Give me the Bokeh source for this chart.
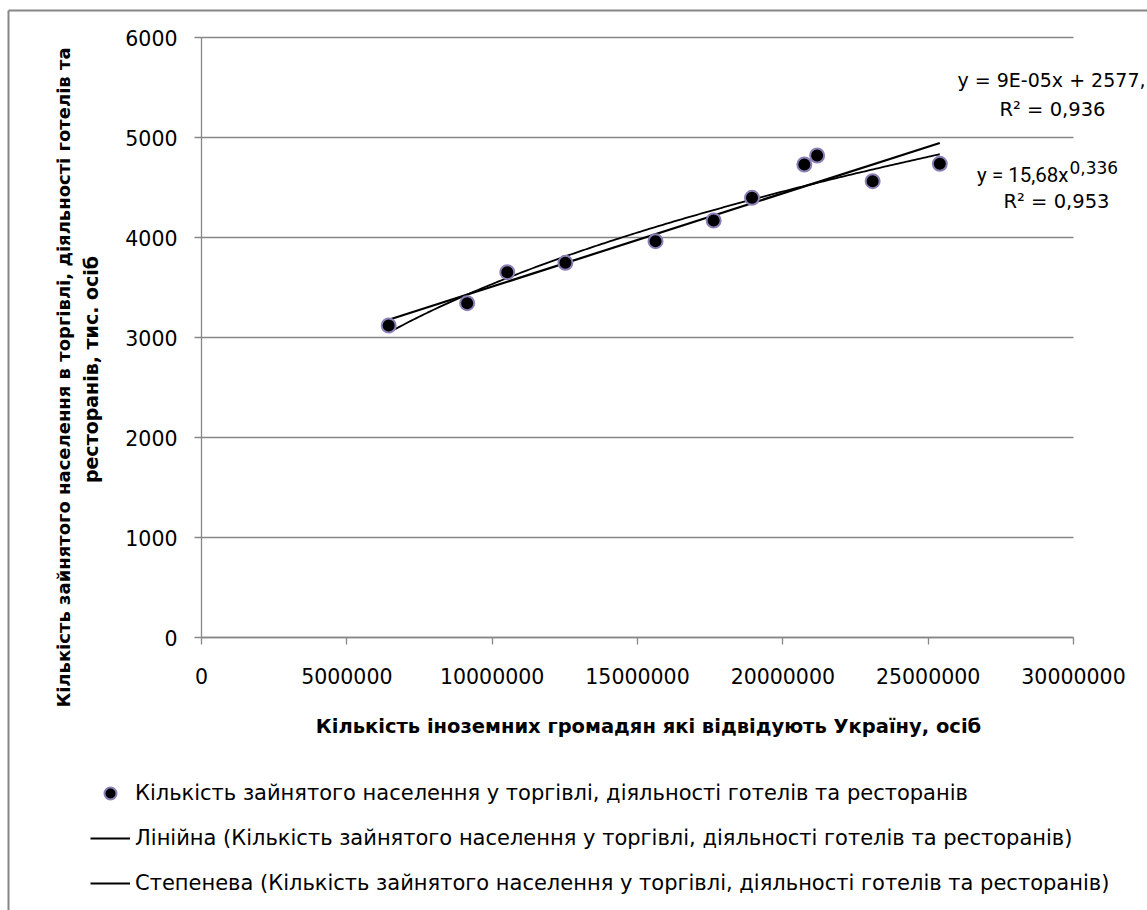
import numpy as np
from bokeh.plotting import figure
from bokeh.models import (Range1d, FixedTicker, BasicTickFormatter, Label, LinearAxis,
                          Legend, LegendItem, ColumnDataSource)
from bokeh.embed import file_html
from bokeh.resources import INLINE

# ---- data ----
visitors = [6440000, 9140000, 10520000, 12520000, 15620000, 17620000,
            18940000, 20740000, 21180000, 23090000, 25400000]
employed = [3120, 3343, 3653, 3747, 3963, 4170, 4397, 4730, 4820, 4563, 4737]

x_ticks = [0, 5000000, 10000000, 15000000, 20000000, 25000000, 30000000]
y_ticks = [0, 1000, 2000, 3000, 4000, 5000, 6000]

series_label = "Кількість зайнятого населення у торгівлі, діяльності готелів та ресторанів"
linear_label = "Лінійна (Кількість зайнятого населення у торгівлі, діяльності готелів та ресторанів)"
power_label = "Степенева (Кількість зайнятого населення у торгівлі, діяльності готелів та ресторанів)"
x_title = "Кількість іноземних громадян які відвідують Україну, осіб"
y_title_1 = "Кількість зайнятого населення в торгівлі, діяльності готелів та"
y_title_2 = "ресторанів, тис. осіб"
lin_eq = "y = 9E-05x + 2577,"
lin_r2 = "R² = 0,936"
pow_eq = "y = 15,68x"
pow_exp = "0,336"
pow_r2 = "R² = 0,953"

# ---- canvas geometry: the frame covers the whole canvas, axes sit at 0 ----
W, H = 1147, 910
FL, FR, FT, FB = 201, 1073, 37, 637
XMAX, YMAX = 30000000, 6000


def dx(px):
    return (px - FL) / (FR - FL) * XMAX


def dy(py):
    return (FB - py) / (FB - FT) * YMAX


NORMAL = "DejaVu Sans"
NARROW = "Roboto"
GRAY = "#868686"

p = figure(width=W, height=H, output_backend="svg", toolbar_location=None,
           x_range=Range1d(dx(0), dx(W)), y_range=Range1d(dy(H), dy(0)),
           x_axis_location=None, y_axis_location=None,
           min_border_left=0, min_border_right=0, min_border_top=0, min_border_bottom=0)
p.outline_line_color = None
p.background_fill_color = "white"
p.border_fill_color = "white"
p.grid.visible = False

# outer chart border (only left and top edges are visible in the picture)
p.segment(x0=[dx(8), dx(8)], y0=[dy(10), dy(10)], x1=[dx(8), dx(W + 20)], y1=[dy(H + 20), dy(10)],
          line_color=GRAY, line_width=2)

# horizontal gridlines at the y ticks, spanning the plot area only
p.segment(x0=0, x1=XMAX, y0=y_ticks, y1=y_ticks, line_color=GRAY, line_width=1.3)

# axes crossing at zero
xaxis = LinearAxis(fixed_location=0, bounds=(0, XMAX), ticker=FixedTicker(ticks=x_ticks),
                   formatter=BasicTickFormatter(use_scientific=False))
yaxis = LinearAxis(fixed_location=0, bounds=(0, YMAX), ticker=FixedTicker(ticks=y_ticks))
for ax in (xaxis, yaxis):
    ax.axis_line_color = GRAY
    ax.axis_line_width = 1.3
    ax.major_tick_line_color = GRAY
    ax.major_tick_line_width = 1.3
    ax.major_tick_out = 7
    ax.major_tick_in = 0
    ax.minor_tick_out = 0
    ax.minor_tick_in = 0
    ax.major_label_text_font = NORMAL
    ax.major_label_text_font_size = "20.5px"
    ax.major_label_text_color = "black"
xaxis.major_label_standoff = 23
yaxis.major_label_standoff = 17
p.add_layout(xaxis, "below")
p.add_layout(yaxis, "left")

# trendlines (least squares from the data, as the spreadsheet does)
xs = np.array(visitors, dtype=float)
ys = np.array(employed, dtype=float)
k, b0 = np.polyfit(xs, ys, 1)
pb, pa = np.polyfit(np.log(xs), np.log(ys), 1)
xl = np.array([xs.min(), xs.max()])
xp = np.linspace(xs.min(), xs.max(), 200)

lin = p.line(xl, k * xl + b0, line_color="black", line_width=2.2)
pw = p.line(xp, np.exp(pa) * xp ** pb, line_color="black", line_width=1.8)

src = ColumnDataSource(dict(x=visitors, y=employed))
sc = p.scatter("x", "y", source=src, size=14, fill_color="black",
               line_color="#8c7fb5", line_width=2)


def lab(text, px, py, size="20px", align="left", font=NORMAL, style="normal", angle=0.0):
    p.add_layout(Label(x=dx(px), y=dy(py), text=text, text_font=font,
                       text_font_size=size, text_font_style=style,
                       text_align=align, text_baseline="middle",
                       text_color="black", angle=angle))


# equation labels
lab(lin_eq, 957, 79, size="19px")
lab(lin_r2, 1052, 109, size="19.5px", align="center")
lab(pow_eq, 1068, 174, size="20.5px", align="right", font=NARROW)
lab(pow_exp, 1069, 167, size="17px")
lab(pow_r2, 1056, 201, size="19.5px", align="center")

# axis titles
lab(x_title, 648, 726, size="19.5px", align="center", style="bold")
lab(y_title_1, 63, 377, size="18px", align="center", style="bold", angle=np.pi / 2)
lab(y_title_2, 90, 369, size="19px", align="center", style="bold", angle=np.pi / 2)

legend = Legend(items=[LegendItem(label=series_label, renderers=[sc]),
                       LegendItem(label=linear_label, renderers=[lin]),
                       LegendItem(label=power_label, renderers=[pw])],
                location=(90, H - 898))
legend.label_text_font = NORMAL
legend.label_text_font_size = "21px"
legend.label_text_color = "black"
legend.glyph_width = 40
legend.glyph_height = 30
legend.label_height = 21
legend.spacing = 15
legend.padding = 0
legend.margin = 0
legend.label_standoff = 5
legend.border_line_color = None
legend.background_fill_alpha = 0
p.add_layout(legend)

open("out.html", "w").write(file_html(p, INLINE))
